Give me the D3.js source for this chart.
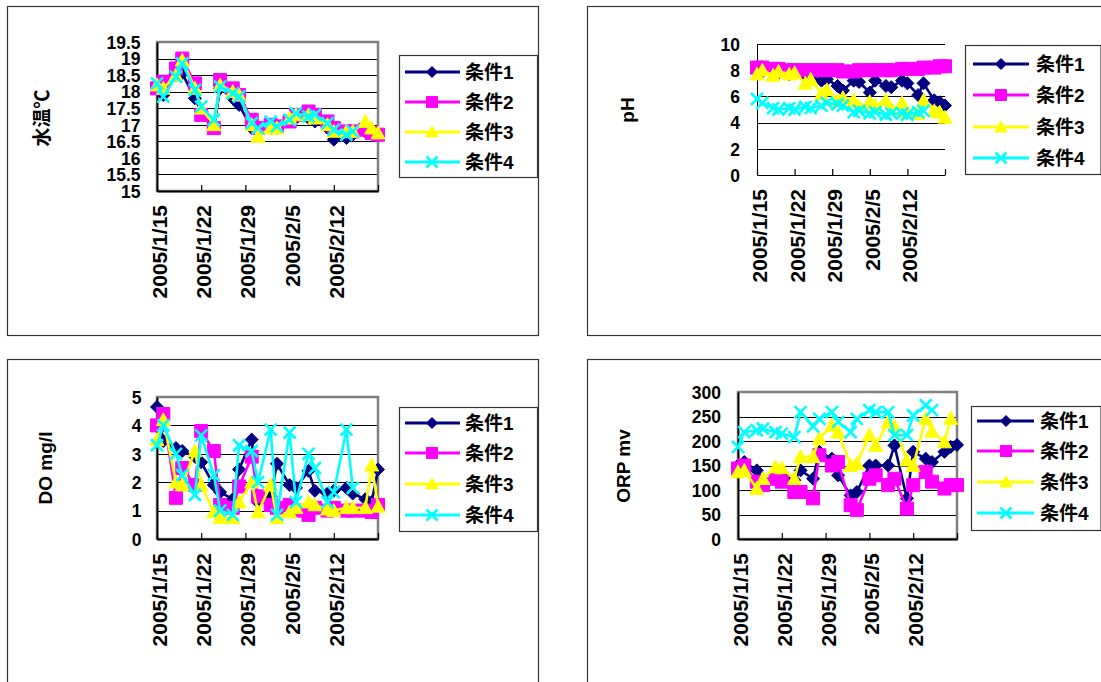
<!DOCTYPE html>
<html><head><meta charset="utf-8">
<script src="https://cdn.jsdelivr.net/npm/d3@7"></script>
<style>
html,body{margin:0;padding:0;background:#fff;}
svg{display:block;}
text{font-family:"Liberation Sans",Arial,"Noto Sans CJK JP",sans-serif;font-weight:bold;fill:#000;}
</style></head><body>
<svg id="chart" width="1101" height="682"></svg>
<script>
// ---- data ----
const dates = ["2005-01-15","2005-01-16","2005-01-18","2005-01-19","2005-01-21","2005-01-22","2005-01-24","2005-01-25","2005-01-27","2005-01-28","2005-01-30","2005-01-31","2005-02-02","2005-02-03","2005-02-05","2005-02-06","2005-02-08","2005-02-09","2005-02-11","2005-02-12","2005-02-14","2005-02-15","2005-02-17","2005-02-18","2005-02-19"];
const seriesNames = ["条件1","条件2","条件3","条件4"];
const xDomain = ["2005-01-15","2005-02-19"];
const xTickDates = ["2005-01-15","2005-01-22","2005-01-29","2005-02-05","2005-02-12","2005-02-19"];
const xTickLabels = ["2005/1/15","2005/1/22","2005/1/29","2005/2/5","2005/2/12"];

const tempYTicks = [15,15.5,16,16.5,17,17.5,18,18.5,19,19.5];
const phYTicks = [0,2,4,6,8,10];
const doYTicks = [0,1,2,3,4,5];
const orpYTicks = [0,50,100,150,200,250,300];

const tempS1 = [18.1,17.9,18.5,18.55,17.8,17.4,16.9,18.1,17.8,17.6,16.9,16.8,16.9,16.9,17.1,17.2,17.2,17.1,16.9,16.55,16.6,16.7,16.8,16.8,16.7];
const tempS2 = [18.1,18.3,18.7,19.0,18.25,17.3,16.9,18.35,18.1,17.9,17.15,16.9,17.0,16.95,17.1,17.3,17.4,17.3,17.1,16.9,16.8,16.8,16.85,16.75,16.7];
const tempS3 = [18.2,18.1,18.5,18.95,18.1,17.5,17.0,18.2,18.0,17.9,17.0,16.65,16.9,16.9,17.2,17.3,17.3,17.2,17.0,16.8,16.8,16.8,17.1,16.9,16.75];
const tempS4 = [18.25,17.85,18.45,18.85,18.05,17.55,17.15,18.15,17.95,17.85,17.05,16.9,17.1,16.95,17.15,17.35,17.25,17.3,17.05,16.85,16.7,16.8,null,null,null];

const phS1 = [8.0,7.9,7.8,7.8,7.7,7.8,7.6,7.5,7.2,7.3,6.8,6.45,7.2,7.1,6.3,7.2,6.8,6.7,7.2,7.0,6.1,7.0,5.7,5.55,5.3];
const phS2 = [8.2,8.2,8.1,8.1,8.0,8.0,8.0,8.0,8.0,8.0,8.0,7.9,7.9,8.0,8.0,8.0,8.0,8.0,8.1,8.1,8.1,8.2,8.2,8.3,8.3];
const phS3 = [7.7,8.0,7.6,7.9,7.7,7.8,7.0,7.3,6.2,6.5,5.7,5.9,5.7,5.2,5.6,5.3,5.7,5.0,5.5,4.8,4.7,5.7,4.9,4.8,4.4];
const phS4 = [5.8,5.5,5.1,5.0,5.1,5.0,5.2,5.1,5.3,5.5,5.4,5.3,4.8,4.9,4.7,4.8,4.6,4.7,4.7,4.6,4.8,4.9,null,null,null];

const doS1 = [4.65,3.45,3.2,3.1,2.9,2.7,1.9,1.65,1.4,2.45,3.5,1.3,1.5,2.65,1.9,1.8,2.4,1.7,1.6,1.7,1.8,1.6,1.4,1.3,2.45];
const doS2 = [4.0,4.4,1.45,2.5,1.9,3.8,3.1,1.2,1.1,1.85,2.9,1.5,1.2,1.1,1.2,1.0,0.85,1.1,1.0,1.1,1.0,1.0,1.0,0.95,1.2];
const doS3 = [3.5,4.2,2.0,1.9,3.1,1.9,0.95,0.75,0.75,1.3,2.0,0.95,1.9,0.75,0.95,1.1,1.3,1.2,1.05,1.0,1.1,1.1,1.1,2.6,1.15];
const doS4 = [3.3,4.0,3.0,2.25,1.55,3.65,2.25,1.0,0.85,3.3,3.1,2.0,3.85,0.85,3.75,1.3,3.0,2.5,1.3,1.65,3.85,1.8,null,null,null];

const orpS1 = [150,157,140,120,125,130,120,140,123,178,164,130,89,96,150,150,150,191,83,178,164,157,178,188,192];
const orpS2 = [144,150,117,110,123,117,96,96,83,171,150,157,69,59,123,130,110,123,62,110,137,117,103,110,110];
const orpS3 = [137,140,103,123,147,145,123,168,168,205,232,218,150,154,212,191,239,230,161,150,246,220,198,246,null];
const orpS4 = [188,218,222,225,218,215,208,259,230,245,259,239,218,245,263,259,259,212,212,252,273,263,null,null,null];

// ---- styles / layout ----
const colors = ["#000080","#FF00FF","#FFFF00","#00FFFF"];
const shapes = ["diamond","square","triangle","x"];

const panels = [
  {frame:[7,6,538,335], plot:[157,42,378,191], domain:[15,19.5], ticks:tempYTicks, labelRight:140.5,
   data:[tempS1,tempS2,tempS3,tempS4], title:"水温℃", titlePos:[42,118], border:true,
   legend:{box:[399,55,537,177], rows:[72,102,132,162], line:[405,460], marker:432, text:465}},
  {frame:[587,6,1110,335], plot:[757,44,945,175], domain:[0,10], ticks:phYTicks, labelRight:740,
   data:[phS1,phS2,phS3,phS4], title:"pH", titlePos:[627,110], border:false,
   legend:{box:[965,45,1100.5,174], rows:[64,95,127,158], line:[973,1029], marker:1001, text:1036}},
  {frame:[7,359,538,700], plot:[157,397,378,539], domain:[0,5], ticks:doYTicks, labelRight:141.5,
   data:[doS1,doS2,doS3,doS4], title:"DO mg/l", titlePos:[45,468], border:true,
   legend:{box:[399,407,537,531], rows:[423,453,484,515], line:[405,460], marker:432, text:465}},
  {frame:[587,359,1110,700], plot:[738,392,957,539], domain:[0,300], ticks:orpYTicks, labelRight:721,
   data:[orpS1,orpS2,orpS3,orpS4], title:"ORP mv", titlePos:[623,466], border:true,
   legend:{box:[971,406,1100.5,530], rows:[421,451,482,513], line:[977,1034], marker:1006, text:1040}}
];

const svg = d3.select("#chart");
const parse = s => new Date(s + "T00:00:00Z");

function markerPath(shape, s) {
  if (shape === "diamond") return `M0,${-s}L${s},0L0,${s}L${-s},0Z`;
  if (shape === "square") return `M${-s},${-s}H${s}V${s}H${-s}Z`;
  if (shape === "triangle") return `M0,${-s-0.5}L${s+0.5},${s*0.9}L${-s-0.5},${s*0.9}Z`;
  return `M${-s},${-s}L${s},${s}M${s},${-s}L${-s},${s}`;
}
function drawMarker(g, i, x, y, s) {
  const sh = shapes[i];
  g.append("path")
    .attr("transform", `translate(${x},${y})`)
    .attr("d", markerPath(sh, s))
    .attr("fill", sh === "x" ? "none" : colors[i])
    .attr("stroke", colors[i])
    .attr("stroke-width", sh === "x" ? 2.6 : 1)
    .attr("stroke-linejoin", "miter");
}

panels.forEach(p => {
  const [l, t, r, b] = p.plot;
  const g = svg.append("g");
  g.append("rect").attr("x", p.frame[0] + 0.5).attr("y", p.frame[1] + 0.5)
    .attr("width", p.frame[2] - p.frame[0]).attr("height", p.frame[3] - p.frame[1])
    .attr("fill", "#fff").attr("stroke", "#333").attr("stroke-width", 1.2);

  const x = d3.scaleUtc().domain(xDomain.map(parse)).range([l, r]);
  const y = d3.scaleLinear().domain(p.domain).range([b, t]);

  g.append("g").selectAll("line").data(p.ticks.filter(v => v > p.domain[0]))
    .join("line").attr("x1", l).attr("x2", r)
    .attr("y1", d => Math.round(y(d)) + 0.5).attr("y2", d => Math.round(y(d)) + 0.5)
    .attr("stroke", "#000").attr("stroke-width", 1);

  if (p.border) {
    g.append("rect").attr("x", l).attr("y", t).attr("width", r - l).attr("height", b - t)
      .attr("fill", "none").attr("stroke", "#808080").attr("stroke-width", 2.5);
  }

  const ya = d3.axisLeft(y).tickValues(p.ticks).tickSize(0).tickPadding(l - p.labelRight)
    .tickFormat(d => String(d));
  const yg = g.append("g").attr("transform", `translate(${l},0)`).call(ya);
  yg.select(".domain").attr("stroke", "#000").attr("stroke-width", p.border ? 1.8 : 1);
  yg.selectAll("text").style("font-size", "17.5px").attr("dy", "0.36em");

  const xa = d3.axisBottom(x).tickValues(xTickDates.map(parse)).tickSizeInner(-6).tickSizeOuter(0)
    .tickFormat((d, i) => xTickLabels[i] || "");
  const xg = g.append("g").attr("transform", `translate(0,${b})`).call(xa);
  xg.select(".domain").attr("stroke", "#000").attr("stroke-width", p.border ? 1.8 : 1);
  xg.selectAll(".tick line").attr("stroke", "#000").attr("stroke-width", 1.2);
  xg.selectAll("text").style("font-size", "21px")
    .attr("transform", "rotate(-90)").attr("text-anchor", "end")
    .attr("x", -14).attr("y", 2).attr("dy", "0.36em");

  g.append("text").attr("transform", `translate(${p.titlePos[0]},${p.titlePos[1]}) rotate(-90)`)
    .attr("text-anchor", "middle").attr("dy", "0.36em").style("font-size", "19px").text(p.title);

  const sg = g.append("g");
  p.data.forEach((vals, i) => {
    const pts = dates.map((d, k) => ({x: parse(d), v: vals[k]}));
    const line = d3.line().defined(d => d.v != null).x(d => x(d.x)).y(d => y(d.v));
    sg.append("path").attr("d", line(pts)).attr("fill", "none")
      .attr("stroke", colors[i]).attr("stroke-width", 2.6).attr("stroke-linejoin", "round");
    pts.filter(d => d.v != null).forEach(d => drawMarker(sg, i, x(d.x), y(d.v), i === 3 ? 6 : 6.5));
  });

  const L = p.legend;
  const lg = g.append("g");
  lg.append("rect").attr("x", L.box[0] + 0.5).attr("y", L.box[1] + 0.5)
    .attr("width", L.box[2] - L.box[0]).attr("height", L.box[3] - L.box[1])
    .attr("fill", "#fff").attr("stroke", "#333").attr("stroke-width", 1.2);
  seriesNames.forEach((name, i) => {
    const ry = L.rows[i];
    lg.append("line").attr("x1", L.line[0]).attr("x2", L.line[1]).attr("y1", ry).attr("y2", ry)
      .attr("stroke", colors[i]).attr("stroke-width", 3);
    drawMarker(lg, i, L.marker, ry, 5.5);
    lg.append("text").attr("x", L.text).attr("y", ry).attr("dy", "0.36em")
      .style("font-size", "19px").text(name);
  });
});
</script>
</body></html>
